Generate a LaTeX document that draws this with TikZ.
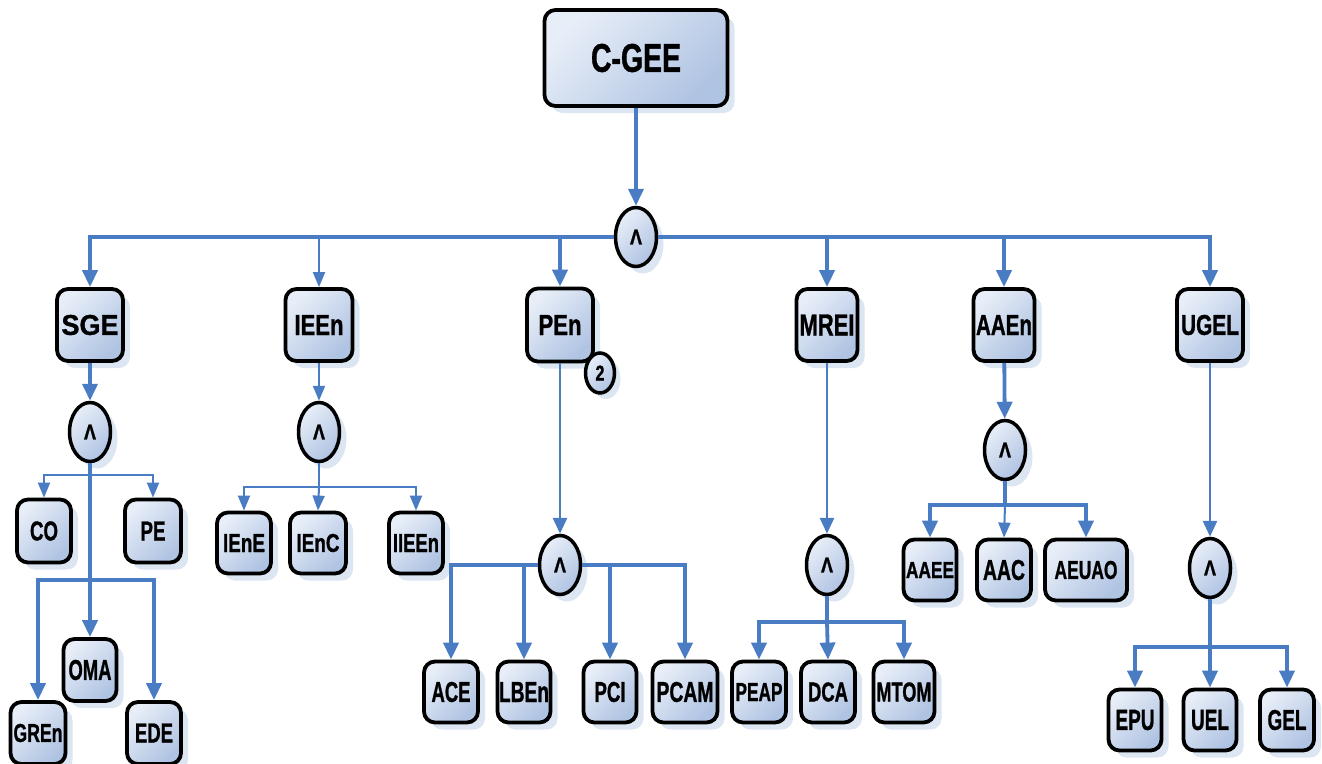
\documentclass[tikz,border=0pt]{standalone}
\usepackage{fontspec}
\setmainfont{Liberation Sans}[BoldFeatures={FakeBold=1.2}]
\usepackage{graphicx}
\usetikzlibrary{arrows.meta,shadows,shapes.geometric}
\definecolor{lineblue}{HTML}{4A7CC4}
\definecolor{boxL}{HTML}{E8EEF8}
\definecolor{boxD}{HTML}{AFC3E2}
\definecolor{shad}{HTML}{DCE5F2}
\newcommand\lbl[3]{\resizebox{#1pt}{#2pt}{\bfseries #3}}
\newcommand\andsym{\resizebox{12pt}{15pt}{\bfseries Λ}}
\tikzset{
  box/.style={draw=black, line width=3.8pt, rounded corners=11pt, inner sep=0pt,
    top color=boxL, bottom color=boxD, shading angle=45,
    drop shadow={shadow xshift=7pt, shadow yshift=-7pt, fill=shad, opacity=1}},
  andnode/.style={ellipse, draw=black, line width=3.5pt, minimum width=41pt, minimum height=59pt, inner sep=0pt,
    top color=boxL, bottom color=boxD, shading angle=45,
    drop shadow={shadow xshift=7pt, shadow yshift=-7pt, fill=shad, opacity=1}},
  conn/.style={draw=lineblue, line width=3.8pt, -{Triangle[width=15pt,length=17pt]}},
  midconn/.style={draw=lineblue, line width=2.8pt, -{Triangle[width=14pt,length=16pt]}},
  thinconn/.style={draw=lineblue, line width=2pt, -{Triangle[width=12pt,length=15pt]}},
  bus/.style={draw=lineblue, line width=3.8pt},
  thinbus/.style={draw=lineblue, line width=2pt},
}
\begin{document}
\begin{tikzpicture}[x=1pt,y=-1pt]
\useasboundingbox (0,0) rectangle (1322,763);
% top
\node[box, minimum width=183pt, minimum height=96pt] (cgee) at (636,58) {\lbl{90}{28}{C-GEE}};
\node[andnode] (topA) at (636,237) {\andsym};
% level 2
\node[box, minimum width=66pt, minimum height=72pt] (sge) at (90,325) {\lbl{57}{20}{SGE}};
\node[box, minimum width=67pt, minimum height=72pt] (ieen) at (319,325) {\lbl{49}{20}{IEEn}};
\node[box, minimum width=66pt, minimum height=73pt] (pen) at (560,325) {\lbl{43}{20}{PEn}};
\node[box, minimum width=61pt, minimum height=72pt] (mrei) at (827,325) {\lbl{55}{21}{MREI}};
\node[box, minimum width=61pt, minimum height=72pt] (aaen) at (1004,325) {\lbl{56}{20}{AAEn}};
\node[box, minimum width=66pt, minimum height=72pt] (ugel) at (1210,325) {\lbl{58}{20}{UGEL}};
\node[ellipse, draw=black, line width=3.5pt, minimum width=29pt, minimum height=40pt, inner sep=0pt,
    top color=boxL, bottom color=boxD, shading angle=45,
    drop shadow={shadow xshift=6pt, shadow yshift=-6pt, fill=shad, opacity=1}] (badge) at (600,373) {\lbl{9}{15}{2}};
% AND nodes
\node[andnode] (sgeA) at (90,432) {\andsym};
\node[andnode] (ieeA) at (319,432) {\andsym};
\node[andnode] (penA) at (560,565) {\andsym};
\node[andnode] (mreA) at (827,565) {\andsym};
\node[andnode] (aaeA) at (1005,450) {\andsym};
\node[andnode] (ugeA) at (1210,568) {\andsym};
% SGE children
\node[box, minimum width=54pt, minimum height=63pt] (co) at (44,531) {\lbl{28}{19}{CO}};
\node[box, minimum width=56pt, minimum height=63pt] (pe) at (153,531) {\lbl{25}{19}{PE}};
\node[box, minimum width=53pt, minimum height=62pt] (oma) at (90,670) {\lbl{43}{20}{OMA}};
\node[box, minimum width=55pt, minimum height=62pt] (gren) at (38,733) {\lbl{49}{18}{GREn}};
\node[box, minimum width=54pt, minimum height=62pt] (ede) at (154,733) {\lbl{38}{19}{EDE}};
% IEEn children
\node[box, minimum width=54pt, minimum height=61pt] (iene) at (244,543) {\lbl{42}{18}{IEnE}};
\node[box, minimum width=56pt, minimum height=61pt] (ienc) at (318,543) {\lbl{43}{18}{IEnC}};
\node[box, minimum width=54pt, minimum height=61pt] (iieen) at (416,543) {\lbl{46}{18}{IIEEn}};
% PEn children
\node[box, minimum width=54pt, minimum height=61pt] (ace) at (451,692) {\lbl{39}{20}{ACE}};
\node[box, minimum width=53pt, minimum height=61pt] (lben) at (524,692) {\lbl{50}{20}{LBEn}};
\node[box, minimum width=53pt, minimum height=61pt] (pci) at (610,692) {\lbl{31}{20}{PCI}};
\node[box, minimum width=65pt, minimum height=61pt] (pcam) at (685,692) {\lbl{57}{20}{PCAM}};
% MREI children
\node[box, minimum width=54pt, minimum height=61pt] (peap) at (759,692) {\lbl{47}{18}{PEAP}};
\node[box, minimum width=54pt, minimum height=61pt] (dca) at (828,692) {\lbl{40}{19}{DCA}};
\node[box, minimum width=61pt, minimum height=61pt] (mtom) at (904,692) {\lbl{55}{19}{MTOM}};
% AAEn children
\node[box, minimum width=53pt, minimum height=61pt] (aaee) at (930,570) {\lbl{48}{16}{AAEE}};
\node[box, minimum width=54pt, minimum height=61pt] (aac) at (1004,570) {\lbl{42}{20}{AAC}};
\node[box, minimum width=82pt, minimum height=61pt] (aeuao) at (1086,570) {\lbl{63}{18}{AEUAO}};
% UGEL children
\node[box, minimum width=53pt, minimum height=61pt] (epu) at (1135,720) {\lbl{39}{20}{EPU}};
\node[box, minimum width=53pt, minimum height=61pt] (uel) at (1210,720) {\lbl{38}{20}{UEL}};
\node[box, minimum width=54pt, minimum height=61pt] (gel) at (1287,720) {\lbl{39}{20}{GEL}};
% junctions
\coordinate (jS1) at (90,475);
\coordinate (jS2) at (90,580);
\coordinate (jI) at (319,487);
\coordinate (jM) at (827,622);
\coordinate (jA) at (1005,505);
\coordinate (jU) at (1210,647);
% connectors top
\draw[conn] (cgee) -- (topA);
\draw[conn] (topA.west) -| (sge.north);
\draw[thinconn] (topA.west) -| (ieen.north);
\draw[conn] (topA.west) -| (pen.north);
\draw[conn] (topA.east) -| (mrei.north);
\draw[conn] (topA.east) -| (aaen.north);
\draw[conn] (topA.east) -| (ugel.north);
% SGE
\draw[conn] (sge) -- (sgeA);
\draw[thinbus] (sgeA.south) -- (jS1);
\draw[thinconn] (jS1) -| (co.north);
\draw[thinconn] (jS1) -| (pe.north);
\draw[conn] (sgeA.south) -- (oma.north);
\draw[conn] (jS2) -| (gren.north);
\draw[conn] (jS2) -| (ede.north);
% IEEn
\draw[thinconn] (ieen) -- (ieeA);
\draw[thinbus] (ieeA.south) -- (jI);
\draw[thinconn] (jI) -| (iene.north);
\draw[thinconn] (jI) -- (ienc.north);
\draw[thinconn] (jI) -| (iieen.north);
% PEn
\draw[midconn] (pen.south) -- (penA.north);
\draw[conn] (penA.west) -| (ace.north);
\draw[conn] (penA.west) -| (lben.north);
\draw[conn] (penA.east) -| (pci.north);
\draw[conn] (penA.east) -| (pcam.north);
% MREI
\draw[midconn] (mrei) -- (mreA);
\draw[bus] (mreA.south) -- (jM);
\draw[conn] (jM) -| (peap.north);
\draw[conn] (jM) -- (dca.north);
\draw[conn] (jM) -| (mtom.north);
% AAEn
\draw[conn] (aaen) -- (aaeA);
\draw[bus] (aaeA.south) -- (jA);
\draw[conn] (jA) -| (aaee.north);
\draw[thinconn] (jA) -- (aac.north);
\draw[conn] (jA) -| (aeuao.north);
% UGEL
\draw[midconn] (ugel) -- (ugeA);
\draw[bus] (ugeA.south) -- (jU);
\draw[conn] (jU) -| (epu.north);
\draw[conn] (jU) -- (uel.north);
\draw[conn] (jU) -| (gel.north);
\end{tikzpicture}
\end{document}
